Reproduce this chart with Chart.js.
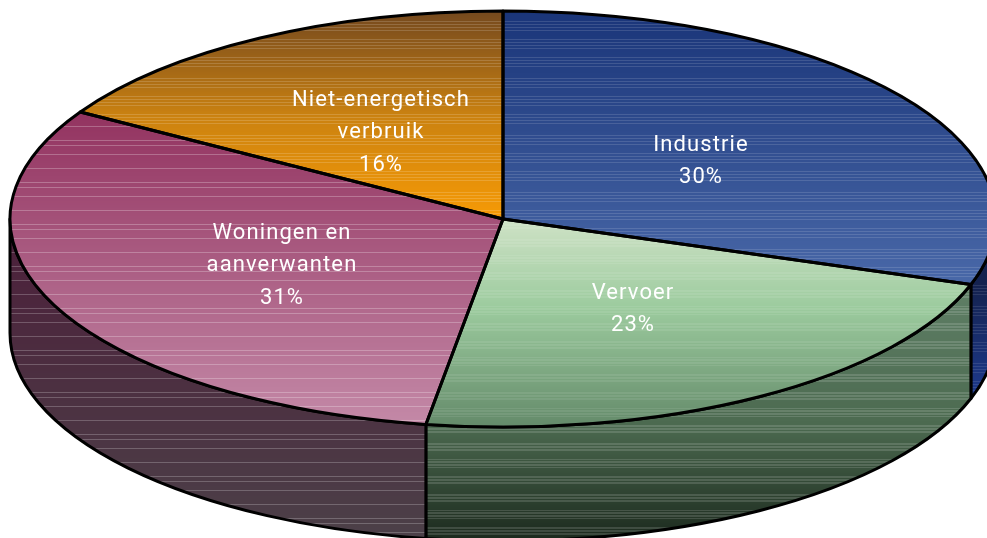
<!DOCTYPE html>
<html>
<head>
<meta charset="utf-8">
<script src="https://cdn.jsdelivr.net/npm/chart.js@4/dist/chart.umd.min.js"></script>
<style>
  html, body { margin: 0; padding: 0; background: #fff; overflow: hidden; }
  canvas { display: block; }
</style>
</head>
<body>
<canvas id="pie" width="987" height="538"></canvas>
<script>
const categories = ['Industrie', 'Vervoer', 'Woningen en\naanverwanten', 'Niet-energetisch\nverbruik'];
const shares = [30.1, 22.4, 31.1, 16.4];
const percentLabels = ['30%', '23%', '31%', '16%'];

// projection of the tilted pie
const CX = 503, CY = 219, RX = 493, RY = 208, DEPTH = 114;
const LABEL_POS = [[701, 145], [633, 293], [282, 233], [381, 100]];
const LINE_GAP = 32.5;

const canvas = document.getElementById('pie');
const c2d = canvas.getContext('2d');

function hexToRgb(h) {
  return [1, 3, 5].map(i => parseInt(h.substr(i, 2), 16));
}

function colorAt(stops, t) {
  let i = 0;
  while (i < stops.length - 2 && t > stops[i + 1][0]) i++;
  const [t0, a] = stops[i], [t1, b] = stops[i + 1];
  const k = Math.min(1, Math.max(0, (t - t0) / (t1 - t0)));
  const ca = hexToRgb(a), cb = hexToRgb(b);
  return ca.map((v, n) => v + (cb[n] - v) * k);
}

// old print-style gradient: one hard band per pixel row, some rows lifted
function bandedGradient(top, bottom, stops, isLit, lift, userScale) {
  const toUser = y => userScale ? CY + (y - CY) * userScale : y;
  const g = c2d.createLinearGradient(0, toUser(top), 0, toUser(bottom));
  const n = bottom - top;
  for (let row = 0; row < n; row++) {
    const y = top + row;
    let rgb = colorAt(stops, row / n);
    if (isLit(y)) rgb = rgb.map(v => v + (255 - v) * lift);
    const css = `rgb(${rgb.map(Math.round).join(',')})`;
    g.addColorStop(row / n, css);
    g.addColorStop((row + 1) / n, css);
  }
  return g;
}

const dense = y => y % 3 === 0 && y % 19 < 12;
const denser = y => y % 3 !== 1 && y % 17 < 9;
const sparse = y => y % 14 === 0 || y % 42 === 19;

const faceScale = 219 / RY;
const faceFills = [
  bandedGradient(11, 290, [[0, '#1a3579'], [1, '#4a69a9']], dense, 0.13, faceScale),
  bandedGradient(218, 430, [[0, '#cfe2c6'], [0.42, '#9ccb9e'], [1, '#628868']], denser, 0.08, faceScale),
  bandedGradient(108, 428, [[0, '#92325f'], [1, '#c48aa8']], sparse, 0.25, faceScale),
  bandedGradient(11, 222, [[0, '#75491e'], [0.5, '#cb8210'], [1, '#f89b05']], dense, 0.16, faceScale)
];
const wallFills = [
  bandedGradient(284, 402, [[0, '#14224f'], [1, '#1e3b90']], dense, 0.1),
  bandedGradient(284, 538, [[0, '#5f7f66'], [0.55, '#4c6a50'], [1, '#1c2a1e']], denser, 0.14),
  bandedGradient(225, 538, [[0, '#4c1f3a'], [1, '#4c4048']], sparse, 0.22),
  null
];

function wallPath(ctx, a, b) {
  ctx.beginPath();
  ctx.ellipse(CX, CY, RX, RY, 0, a, b);
  ctx.ellipse(CX, CY + DEPTH, RX, RY, 0, b, a, true);
  ctx.closePath();
}

const tiltedPie = {
  id: 'tiltedPie',
  beforeDatasetsDraw(chart) {
    const ctx = chart.ctx;
    const arcs = chart.getDatasetMeta(0).data;
    ctx.save();
    ctx.lineWidth = 3;
    ctx.strokeStyle = '#000';
    ctx.lineJoin = 'round';
    // only the front half of the rim is visible
    arcs.forEach((arc, i) => {
      const a = Math.max(arc.startAngle, 0);
      const b = Math.min(arc.endAngle, Math.PI);
      if (b <= a || !wallFills[i]) return;
      wallPath(ctx, a, b);
      ctx.fillStyle = wallFills[i];
      ctx.fill();
      ctx.stroke();
    });
    ctx.restore();

    const r = arcs[0].outerRadius;
    ctx.save();
    ctx.translate(CX, CY);
    ctx.scale(RX / r, RY / r);
    ctx.translate(-arcs[0].x, -arcs[0].y);
  },
  afterDatasetsDraw(chart) {
    const ctx = chart.ctx;
    ctx.restore();

    ctx.save();
    ctx.lineWidth = 3;
    ctx.strokeStyle = '#000';
    ctx.lineJoin = 'round';
    chart.getDatasetMeta(0).data.forEach(arc => {
      ctx.beginPath();
      ctx.moveTo(CX, CY);
      ctx.ellipse(CX, CY, RX, RY, 0, arc.startAngle, arc.endAngle);
      ctx.closePath();
      ctx.stroke();
    });

    ctx.fillStyle = '#fff';
    ctx.font = '400 22px Roboto';
    ctx.letterSpacing = '1.1px';
    ctx.textAlign = 'center';
    ctx.textBaseline = 'middle';
    categories.forEach((name, i) => {
      const lines = name.split('\n').concat(percentLabels[i]);
      lines.forEach((line, n) => {
        ctx.fillText(line, LABEL_POS[i][0], LABEL_POS[i][1] + n * LINE_GAP);
      });
    });
    ctx.restore();
  }
};

new Chart(canvas, {
  type: 'pie',
  data: {
    labels: categories.map(s => s.replace('\n', ' ')),
    datasets: [{
      data: shares,
      backgroundColor: faceFills,
      borderWidth: 0
    }]
  },
  options: {
    responsive: false,
    animation: false,
    events: [],
    layout: { padding: { left: 19, right: 0, top: 0, bottom: 100 } },
    plugins: {
      legend: { display: false },
      tooltip: { enabled: false }
    }
  },
  plugins: [tiltedPie]
});
</script>
</body>
</html>
